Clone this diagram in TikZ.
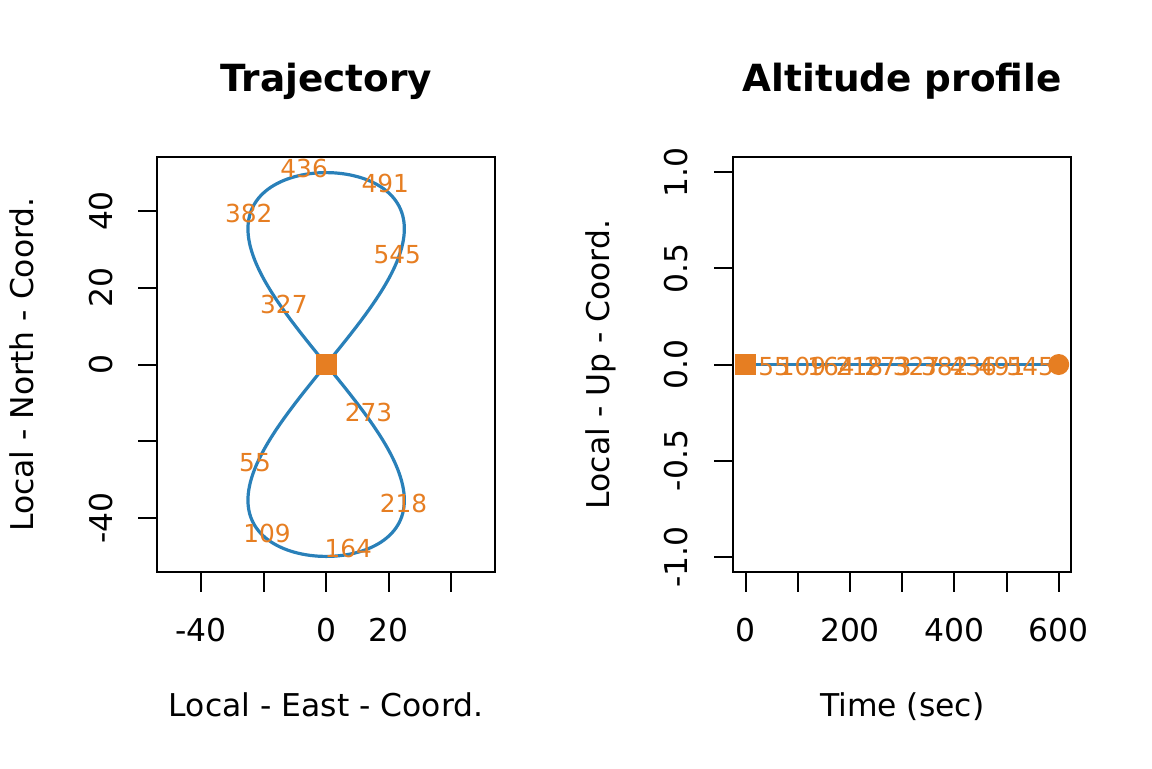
\documentclass[tikz,border=0pt]{standalone}
\usepackage{fontspec}
\setmainfont{DejaVu Sans}
\definecolor{trajblue}{HTML}{2980B9}
\definecolor{markorange}{HTML}{E67E22}
\begin{document}
\begin{tikzpicture}[x=0.5pt,y=-0.5pt,
  axisline/.style={line width=1pt, black},
  ticklab/.style={font=\fontsize{15.7}{18}\selectfont, inner sep=0pt, anchor=base},
  yticklab/.style={ticklab, rotate=90},
  axtitle/.style={font=\fontsize{15.7}{18}\selectfont, inner sep=0pt, anchor=base},
  yaxtitle/.style={axtitle, rotate=90},
  maintitle/.style={font=\bfseries\fontsize{18.7}{22}\selectfont, inner sep=0pt, anchor=base},
  ptlab/.style={font=\fontsize{12.4}{14}\selectfont, text=markorange, inner sep=0pt},
  sqmark/.style={rectangle, fill=markorange, minimum size=10.5pt, inner sep=0pt},
  circmark/.style={circle, fill=markorange, minimum size=10.5pt, inner sep=0pt},
  trajline/.style={trajblue, line width=1.6pt}
]
\useasboundingbox (0,0) rectangle (1152,768);

% ---------------- Left panel: Trajectory ----------------
\node[maintitle] (t1) at (326.15,91) {Trajectory};
\draw[axisline] (157.3,156.7) rectangle (495,572);
% x ticks
\foreach \k in {0,...,4} {
  \draw[axisline] ({201+62.575*\k},572) -- ({201+62.575*\k},591.7);
}
\node[ticklab] (xl1) at (201,641) {-40};
\node[ticklab] (xl2) at (326.15,641) {0};
\node[ticklab] (xl3) at (388.7,641) {20};
% y ticks
\foreach \k in {0,...,4} {
  \draw[axisline] (157.3,{211+76.75*\k}) -- (137.5,{211+76.75*\k});
}
\node[yticklab] (yl1) at (112,211) {40};
\node[yticklab] (yl2) at (112,287.75) {20};
\node[yticklab] (yl3) at (112,364.5) {0};
\node[yticklab] (yl4) at (112,518) {-40};
\node[axtitle] (xt1) at (326.15,716) {Local - East - Coord.};
\node[yaxtitle] (yt1) at (33.5,364.5) {Local - North - Coord.};
% curve
\draw[trajline] plot[domain=0:360, samples=241, smooth]
  ({326.15-78.2*sin(2*\x)},{364.5+191.9*sin(\x)});
\node[sqmark] (s1) at (326.15,364.5) {};
\foreach \k/\lab in {1/55,2/109,3/164,4/218,5/273,6/327,7/382,8/436,9/491,10/545} {
  \node[ptlab] (p\k) at ({326.15-78.2*sin(2*\k*360/11)},{364.5+191.9*sin(\k*360/11)-6}) {\lab};
}

% ---------------- Right panel: Altitude profile ----------------
\node[maintitle] (t2) at (902.2,91) {Altitude profile};
\draw[axisline] (733.3,156.7) rectangle (1071,571.7);
\foreach \k in {0,...,6} {
  \draw[axisline] ({745.7+52.167*\k},571.7) -- ({745.7+52.167*\k},591.7);
}
\node[ticklab] (xr1) at (745.7,641) {0};
\node[ticklab] (xr2) at (850.0,641) {200};
\node[ticklab] (xr3) at (954.4,641) {400};
\node[ticklab] (xr4) at (1058.7,641) {600};
\foreach \k in {0,...,4} {
  \draw[axisline] (733.3,{172.3+96.1*\k}) -- (714,{172.3+96.1*\k});
}
\node[yticklab] (yr1) at (687,172.3) {1.0};
\node[yticklab] (yr2) at (687,268.4) {0.5};
\node[yticklab] (yr3) at (687,364.5) {0.0};
\node[yticklab] (yr4) at (687,460.6) {-0.5};
\node[yticklab] (yr5) at (687,556.7) {-1.0};
\node[axtitle] (xt2) at (902.2,716) {Time (sec)};
\node[yaxtitle] (yt2) at (609.8,364.5) {Local - Up - Coord.};
% data
\coordinate (a0) at (745.7,364.5);
\coordinate (a1) at (1058.7,364.5);
\draw[trajline] (a0) -- (a1);
\node[sqmark] (s2) at (a0) {};
\node[circmark] (c2) at (a1) {};
\foreach \k/\lab in {1/55,2/109,3/164,4/218,5/273,6/327,7/382,8/436,9/491,10/545} {
  \node[ptlab] (q\k) at ({745.7+28.4545*\k},366.5) {\lab};
}
\end{tikzpicture}
\end{document}
